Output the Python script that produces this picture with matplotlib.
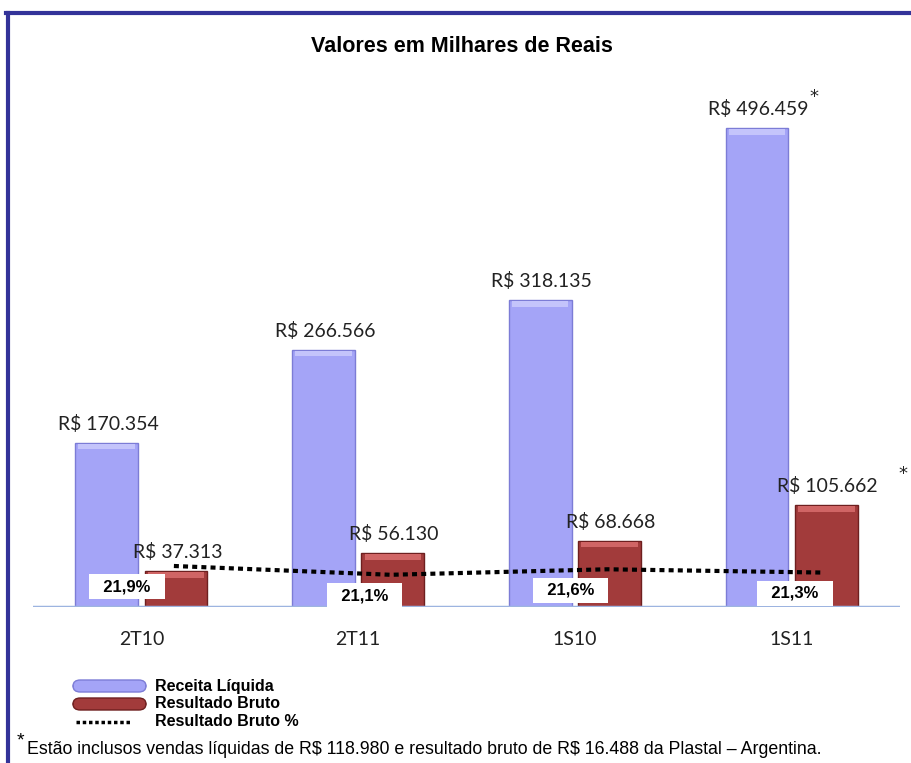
import matplotlib
matplotlib.use("Agg")
import matplotlib.pyplot as plt
from matplotlib.patches import FancyBboxPatch
from matplotlib.lines import Line2D
import numpy as np

categorias = ["2T10", "2T11", "1S10", "1S11"]
receita = [170.354, 266.566, 318.135, 496.459]
resultado = [37.313, 56.130, 68.668, 105.662]
margem = [21.9, 21.1, 21.6, 21.3]
rotulos_receita = ["R\\$ 170.354", "R\\$ 266.566", "R\\$ 318.135", "R\\$ 496.459"]
rotulos_resultado = ["R\\$ 37.313", "R\\$ 56.130", "R\\$ 68.668", "R\\$ 105.662"]
rotulos_margem = ["21,9%", "21,1%", "21,6%", "21,3%"]

W, H = 912, 763
fig = plt.figure(figsize=(W / 100, H / 100), dpi=100)

def fx(px):
    return px / W

def fy(py):
    return 1 - py / H

azul = "#a4a4f7"
azul_borda = "#7c7cd6"
verm = "#a23b3b"
verm_borda = "#6e1f1f"

# axes: baseline at y=607 px, top at 80 px
ax = fig.add_axes([fx(33), fy(607), fx(900) - fx(33), fy(80) - fy(607)])
ax.set_xlim(-0.5, 3.5)
ax.set_ylim(0, 546)
ax.axis("off")

x = np.arange(len(categorias))
w = 0.29
off = 0.16
ax.bar(x - off, receita, w, color=azul, edgecolor=azul_borda, linewidth=1.0, zorder=2)
ax.bar(x + off, resultado, w, color=verm, edgecolor=verm_borda, linewidth=1.0, zorder=2)
# light band at the top of each bar (bevel look)
ax.bar(x - off, [6] * 4, w * 0.9, bottom=np.array(receita) - 7, color="#c4c4fb", linewidth=0, zorder=3)
ax.bar(x + off, [6] * 4, w * 0.9, bottom=np.array(resultado) - 7, color="#d06565", linewidth=0, zorder=3)

ax.axhline(0, color="#9db4e0", linewidth=2.5, zorder=4)

fonte_val = "Lato"
for i in range(len(categorias)):
    ax.annotate(rotulos_receita[i], (x[i] - off, receita[i]), xytext=(1, 7),
                textcoords="offset points", ha="center", va="bottom",
                fontsize=14, family=fonte_val, color="#222222")
    ax.annotate(rotulos_resultado[i], (x[i] + off, resultado[i]), xytext=(1, 7),
                textcoords="offset points", ha="center", va="bottom",
                fontsize=14, family=fonte_val, color="#222222")
    ax.text(x[i], -34, categorias[i], ha="center", va="center",
            fontsize=14, family=fonte_val, color="#222222")

# superscript asterisks
ax.annotate("*", (x[3] - off, receita[3]), xytext=(41, 22), textcoords="offset points",
            ha="center", va="center", fontsize=13, color="#222222")
ax.annotate("*", (x[3] + off, resultado[3]), xytext=(55, 22), textcoords="offset points",
            ha="center", va="center", fontsize=13, color="#222222")

# percentage line on twin axis
ax2 = ax.twinx()
ax2.set_ylim(18.17, 66.1)
ax2.axis("off")
xl = x + 0.15
ax2.plot(xl, margem, linestyle=(0, (1.2, 1.0)), color="black", linewidth=3, zorder=5)
nudge = [-47, -26, -37, -29]
for i in range(len(categorias)):
    ax2.annotate("  " + rotulos_margem[i] + "  ", (xl[i], margem[i]), xytext=(nudge[i] * 0.72, -15),
                 textcoords="offset points", ha="center", va="center",
                 fontsize=12, fontweight="bold", family="Liberation Sans",
                 bbox=dict(boxstyle="square,pad=0.3", facecolor="white", edgecolor="none"),
                 zorder=6)

# title
fig.text(fx(462), fy(47), "Valores em Milhares de Reais", ha="center", va="center",
         fontsize=15.5, fontweight="bold", family="Liberation Sans")

# frame lines
fig.add_artist(Line2D([fx(6), 1], [fy(13), fy(13)], color="#333399", linewidth=3))
fig.add_artist(Line2D([fx(8), fx(8)], [fy(13), 0], color="#333399", linewidth=3))

# legend
leg = [("Receita Líquida", azul, azul_borda), ("Resultado Bruto", verm, verm_borda)]
for k, (nome, cor, borda) in enumerate(leg):
    yc = 686 + 18 * k
    p = FancyBboxPatch((fx(73), fy(yc + 6)), fx(146) - fx(73), fy(yc - 6) - fy(yc + 6),
                       boxstyle="round,pad=0,rounding_size=0.008", transform=fig.transFigure,
                       facecolor=cor, edgecolor=borda, linewidth=1)
    fig.add_artist(p)
    fig.text(fx(155), fy(yc), nome, ha="left", va="center", fontsize=11.5,
             fontweight="bold", family="Liberation Sans")
fig.add_artist(Line2D([fx(76), fx(131)], [fy(722), fy(722)], color="black",
                      linewidth=2.5, linestyle=(0, (1, 0.8))))
fig.text(fx(155), fy(722), "Resultado Bruto %", ha="left", va="center", fontsize=11.5,
         fontweight="bold", family="Liberation Sans")

# footnote
fig.text(fx(17), fy(741), "*", ha="left", va="center", fontsize=14, family="Liberation Sans")
fig.text(fx(27), fy(749), "Estão inclusos vendas líquidas de R\\$ 118.980 e resultado bruto de R\\$ 16.488 da Plastal – Argentina.",
         ha="left", va="center", fontsize=12.8, family="Liberation Sans")

fig.savefig("out.png", dpi=100)
